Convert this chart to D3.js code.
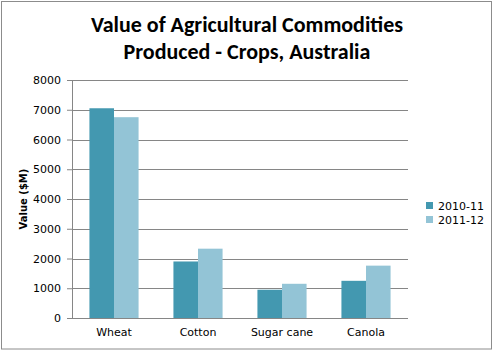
<!DOCTYPE html>
<html>
<head>
<meta charset="utf-8">
<script src="https://cdn.jsdelivr.net/npm/d3@7"></script>
<style>
  body { margin: 0; background: #fff; }
  svg { display: block; }
</style>
</head>
<body>
<div id="chart"></div>
<script>
const crops = ['Wheat', 'Cotton', 'Sugar cane', 'Canola'];
const seriesNames = ['2010-11', '2011-12'];
const values2010 = [7050, 1900, 950, 1250];
const values2011 = [6750, 2330, 1150, 1760];
const yTicks = [0, 1000, 2000, 3000, 4000, 5000, 6000, 7000, 8000];
const colors = ['#4398b0', '#93c4d6'];

const width = 494, height = 351;
const margin = { top: 80, right: 86, bottom: 33, left: 72 };
const innerW = width - margin.left - margin.right;
const innerH = height - margin.top - margin.bottom;

const svg = d3.select('#chart').append('svg')
    .attr('width', width)
    .attr('height', height);

// chart border
svg.append('rect')
    .attr('x', 1.5).attr('y', 1.5)
    .attr('width', width - 4).attr('height', height - 3.5)
    .attr('fill', 'none')
    .attr('stroke', '#8c8c8c');

// title
const title = svg.append('text')
    .attr('text-anchor', 'middle')
    .style('font-family', 'Carlito, Calibri, Lato, sans-serif')
    .style('font-weight', 'bold')
    .style('font-size', '22px')
    .attr('fill', '#000');
title.append('tspan').attr('x', 247).attr('y', 32).text('Value of Agricultural Commodities');
title.append('tspan').attr('x', 247).attr('y', 59).text('Produced - Crops, Australia');

const g = svg.append('g').attr('transform', `translate(${margin.left},${margin.top})`);

const x0 = d3.scaleBand().domain(crops).range([0, innerW]).paddingInner(0.415).paddingOuter(0.2075);
const x1 = d3.scaleBand().domain(seriesNames).range([0, x0.bandwidth()]);
const y = d3.scaleLinear().domain([0, 8000]).range([innerH, 0]);

// gridlines
g.selectAll('.grid').data(yTicks).enter().append('line')
    .attr('x1', 0).attr('x2', innerW)
    .attr('y1', d => Math.round(y(d)) + 0.5).attr('y2', d => Math.round(y(d)) + 0.5)
    .attr('stroke', '#868686');

// bars
const data = crops.map((c, i) => ({ crop: c, vals: [values2010[i], values2011[i]] }));
const groups = g.selectAll('.grp').data(data).enter().append('g')
    .attr('transform', d => `translate(${x0(d.crop)},0)`);
groups.selectAll('rect').data(d => d.vals.map((v, j) => ({ s: seriesNames[j], v: v, j: j })))
    .enter().append('rect')
    .attr('x', d => x1(d.s))
    .attr('width', x1.bandwidth())
    .attr('y', d => y(d.v))
    .attr('height', d => innerH - y(d.v))
    .attr('fill', d => colors[d.j]);

// y axis
const yAxis = g.append('g')
    .call(d3.axisLeft(y).tickValues(yTicks).tickSize(5).tickPadding(6).tickFormat(d3.format('d')));
yAxis.select('.domain').attr('stroke', '#868686').attr('d', `M0.5,0V${innerH}`);
yAxis.selectAll('.tick line').attr('stroke', '#868686');
yAxis.selectAll('text')
    .style('font-family', 'Tahoma, "DejaVu Sans", sans-serif')
    .style('font-size', '11px')
    .attr('fill', '#000');

// x axis
const xAxis = g.append('g').attr('transform', `translate(0,${innerH})`)
    .call(d3.axisBottom(x0).tickSize(0).tickPadding(10));
xAxis.select('.domain').remove();
xAxis.selectAll('text')
    .style('font-family', 'Tahoma, "DejaVu Sans", sans-serif')
    .style('font-size', '11px')
    .attr('fill', '#000');

// y axis label
svg.append('text')
    .attr('transform', `translate(27,${margin.top + innerH / 2}) rotate(-90)`)
    .attr('text-anchor', 'middle')
    .style('font-family', 'Tahoma, "DejaVu Sans", sans-serif')
    .style('font-weight', 'bold')
    .style('font-size', '10px')
    .text('Value ($M)');

// legend
const legend = svg.append('g').attr('transform', 'translate(426,202)');
seriesNames.forEach((s, i) => {
  const row = legend.append('g').attr('transform', `translate(0,${i * 14})`);
  row.append('rect').attr('width', 7).attr('height', 7).attr('fill', colors[i]);
  row.append('text')
      .attr('x', 12).attr('y', 7.5)
      .style('font-family', 'Tahoma, "DejaVu Sans", sans-serif')
      .style('font-size', '11px')
      .text(s);
});
</script>
</body>
</html>
